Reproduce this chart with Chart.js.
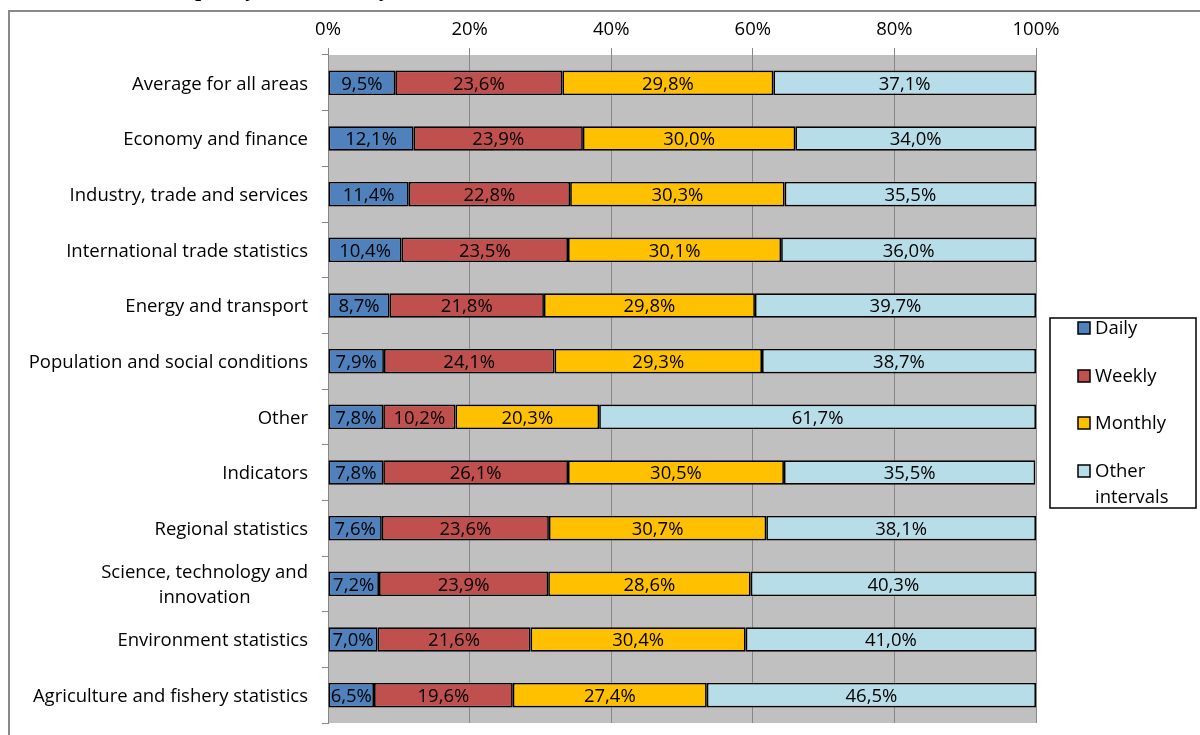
<!DOCTYPE html>
<html>
<head>
<meta charset="utf-8">
<script src="https://cdn.jsdelivr.net/npm/chart.js@4/dist/chart.umd.min.js"></script>
<style>
  html, body { margin: 0; padding: 0; background: #fff; }
  #wrap { position: relative; width: 1200px; height: 735px; overflow: hidden; }
</style>
</head>
<body>
<div id="wrap"><canvas id="chart" width="1200" height="735"></canvas></div>
<script>
const title = 'Release frequency of datasets by theme';

const categories = [
    'Average for all areas',
    'Economy and finance',
    'Industry, trade and services',
    'International trade statistics',
    'Energy and transport',
    'Population and social conditions',
    'Other',
    'Indicators',
    'Regional statistics',
    ['Science, technology and', 'innovation'],
    'Environment statistics',
    'Agriculture and fishery statistics'
];

const seriesNames = ['Daily', 'Weekly', 'Monthly', 'Other intervals'];
const daily   = [9.5, 12.1, 11.4, 10.4, 8.7, 7.9, 7.8, 7.8, 7.6, 7.2, 7.0, 6.5];
const weekly  = [23.6, 23.9, 22.8, 23.5, 21.8, 24.1, 10.2, 26.1, 23.6, 23.9, 21.6, 19.6];
const monthly = [29.8, 30.0, 30.3, 30.1, 29.8, 29.3, 20.3, 30.5, 30.7, 28.6, 30.4, 27.4];
const other   = [37.1, 34.0, 35.5, 36.0, 39.7, 38.7, 61.7, 35.5, 38.1, 40.3, 41.0, 46.5];
const xTicks  = [0, 20, 40, 60, 80, 100];

const colors = ['#4F81BD', '#C0504D', '#FFC000', '#B7DEE8'];
const FONT = '"Open Sans", Lato, sans-serif';
const SIZE = 18.5;

function pct(v) {
    return v.toFixed(1).replace('.', ',') + '%';
}

const datasets = [daily, weekly, monthly, other].map((d, i) => ({
    label: seriesNames[i],
    data: d,
    backgroundColor: colors[i],
    borderColor: '#000',
    borderWidth: 1.7,
    borderSkipped: false,
    categoryPercentage: 1,
    barPercentage: 0.44
}));

// frame, plot background, title remnant
const backdrop = {
    id: 'backdrop',
    beforeDraw(chart) {
        const { ctx, chartArea: a } = chart;
        ctx.save();
        ctx.strokeStyle = '#898989';
        ctx.lineWidth = 2;
        ctx.beginPath();
        ctx.moveTo(9, 800);
        ctx.lineTo(9, 11);
        ctx.lineTo(1300, 11);
        ctx.stroke();

        ctx.font = 'bold 22px "Liberation Serif", serif';
        ctx.fillStyle = '#000';
        ctx.textBaseline = 'alphabetic';
        const pre = ctx.measureText('Release fre').width;
        ctx.fillText(title, 189 - pre, -4);

        ctx.fillStyle = '#C0C0C0';
        ctx.fillRect(a.left, a.top, a.right - a.left, a.bottom - a.top);
        ctx.restore();
    }
};

// value labels, category labels and legend box
const labels = {
    id: 'labels',
    afterDraw(chart) {
        const { ctx } = chart;
        ctx.save();
        ctx.fillStyle = '#000';
        ctx.font = SIZE + 'px ' + FONT;
        ctx.textAlign = 'center';
        ctx.textBaseline = 'middle';
        chart.data.datasets.forEach((ds, di) => {
            chart.getDatasetMeta(di).data.forEach((bar, i) => {
                const p = bar.getProps(['x', 'y', 'base'], true);
                ctx.fillText(pct(ds.data[i]), (p.x + p.base) / 2, p.y + 1.5);
            });
        });

        const ys = chart.scales.y;
        categories.forEach((c, i) => {
            const lines = Array.isArray(c) ? c : [c];
            const w = Math.max(...lines.map(l => ctx.measureText(l).width));
            const cy = ys.getPixelForTick(i) + 1.5;
            lines.forEach((l, j) => {
                const y = cy + (j - (lines.length - 1) / 2) * 25;
                ctx.fillText(l, 308 - w / 2, y);
            });
        });

        // legend
        ctx.strokeStyle = '#000';
        ctx.lineWidth = 1.5;
        ctx.strokeRect(1050, 318, 146, 190);
        ctx.textAlign = 'left';
        const rows = [329, 377, 424, 472];
        chart.data.datasets.forEach((ds, i) => {
            ctx.fillStyle = ds.backgroundColor;
            ctx.fillRect(1078, rows[i] - 7, 12, 12);
            ctx.strokeRect(1078, rows[i] - 7, 12, 12);
            ctx.fillStyle = '#000';
            const words = ds.label.split(' ');
            words.forEach((w, j) => ctx.fillText(w, 1095, rows[i] + j * 26));
        });
        ctx.restore();
    }
};

new Chart(document.getElementById('chart'), {
    type: 'bar',
    data: { labels: categories, datasets },
    options: {
        indexAxis: 'y',
        responsive: false,
        animation: false,
        layout: { padding: { left: 0, right: 164, top: 0, bottom: 12 } },
        plugins: {
            legend: { display: false },
            tooltip: { enabled: false }
        },
        scales: {
            x: {
                position: 'top',
                stacked: true,
                min: 0,
                max: 100,
                afterBuildTicks: s => { s.ticks = xTicks.map(v => ({ value: v })); },
                afterFit: s => { s.height = 55; },
                grid: { color: '#878787', lineWidth: 1, tickLength: 7 },
                border: { display: false },
                ticks: {
                    color: '#000',
                    font: { family: FONT, size: SIZE },
                    padding: 7,
                    callback: v => v + '%'
                }
            },
            y: {
                stacked: true,
                afterFit: s => { s.width = 328; },
                grid: { drawOnChartArea: false, offset: true, color: '#878787', tickLength: 6 },
                border: { color: '#878787', width: 1 },
                ticks: { display: false }
            }
        }
    },
    plugins: [backdrop, labels]
});
</script>
</body>
</html>
